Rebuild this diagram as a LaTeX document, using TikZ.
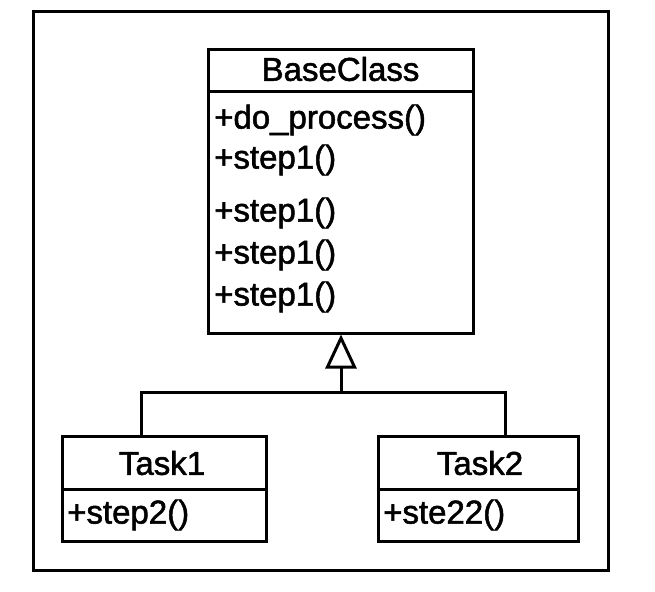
\documentclass[tikz,border=0pt]{standalone}
\usepackage{fontspec}
\setmainfont{Liberation Sans}
\newfontfamily\umlfont[BoldFont=Liberation Sans, BoldFeatures={FakeBold=1.6}]{Liberation Sans}
\usetikzlibrary{arrows.meta}
\begin{document}
\begin{tikzpicture}[x=1pt,y=-1pt,
  umlbox/.style={draw, line width=3pt, inner sep=0pt},
  umltitle/.style={inner sep=0pt, font=\umlfont\bfseries\fontsize{33}{36}\selectfont},
  umlitem/.style={anchor=west, inner sep=0pt, font=\umlfont\bfseries\fontsize{33}{36}\selectfont},
  umlline/.style={line width=3pt}]
\useasboundingbox (0,0) rectangle (655,591);

% Drawing outer frame
\draw [umlline] (33,12) rectangle (608,570);

% Drawing class BaseClass
\node [umlbox, minimum width=265pt, minimum height=283pt] (base) at (340.5,191.5) {};
\draw [umlline] (208,92) -- (473,92);
\node [umltitle] (basename) at (340.5,69) {BaseClass};
\node [umlitem] (bm1) at (214,120) {+do\_process()};
\node [umlitem] (bm2) at (214,160) {+step1()};
\node [umlitem] (bm3) at (214,213) {+step1()};
\node [umlitem] (bm4) at (214,255) {+step1()};
\node [umlitem] (bm5) at (214,297) {+step1()};

% Drawing class Task1
\node [umlbox, minimum width=204pt, minimum height=105pt] (task1) at (164,488.5) {};
\draw [umlline] (62,489) -- (266,489);
\node [umltitle] (task1name) at (162,463) {Task1};
\node [umlitem] (t1m1) at (67,515) {+step2()};

% Drawing class Task2
\node [umlbox, minimum width=200pt, minimum height=105pt] (task2) at (478,488.5) {};
\draw [umlline] (378,489) -- (578,489);
\node [umltitle] (task2name) at (480,463) {Task2};
\node [umlitem] (t2m1) at (383,515) {+ste22()};

% Drawing generalization
\coordinate (t1top) at (141,436);
\coordinate (t2top) at (505,436);
\coordinate (join) at (341,392);
\draw [umlline] (t1top) |- (join) -| (t2top);
\draw [umlline, -{Triangle[open, length=34pt, width=31pt]}] (join) -- (base.south -| join);
\end{tikzpicture}
\end{document}
